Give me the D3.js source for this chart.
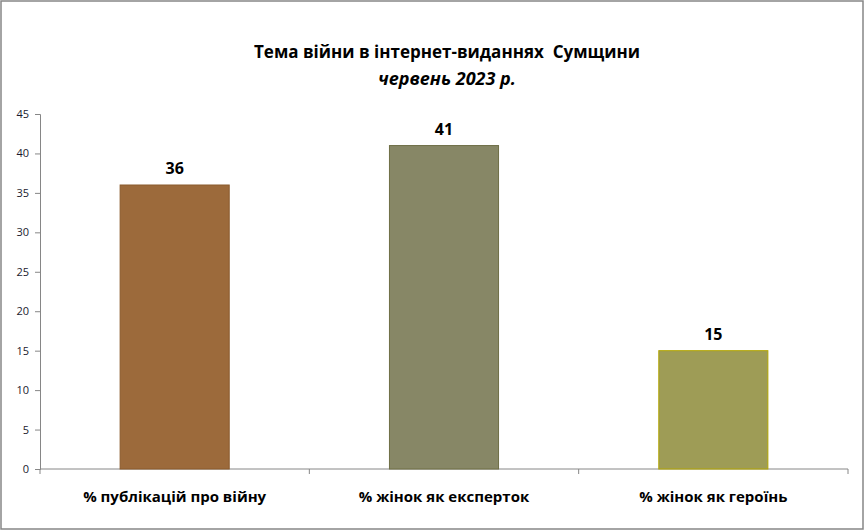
<!DOCTYPE html>
<html>
<head>
<meta charset="utf-8">
<title>Тема війни в інтернет-виданнях Сумщини</title>
<style>
  body { margin: 0; padding: 0; background: #fff; }
  text { font-family: "Open Sans", "Noto Sans", sans-serif; }
</style>
</head>
<body>
<div id="chart"></div>
<script src="https://d3js.org/d3.v7.min.js"></script>
<script>
// data
var categories = ["% публікацій про війну", "% жінок як експерток", "% жінок як героїнь"];
var values = [36, 41, 15];
var yTicks = [0, 5, 10, 15, 20, 25, 30, 35, 40, 45];
var fills = ["#9c6a3b", "#878766", "#9e9c56"];
var strokes = ["#8a5a2c", "#6e6e45", "#b2a500"];

var width = 865, height = 531;
var margin = {top: 114, right: 17, bottom: 62, left: 40};

var svg = d3.select("#chart").append("svg")
    .attr("width", width)
    .attr("height", height);

// outer frame
svg.append("rect")
    .attr("x", 1).attr("y", 1)
    .attr("width", width - 3).attr("height", height - 3)
    .attr("fill", "#fff")
    .attr("stroke", "#868686")
    .attr("stroke-width", 1.5);

var x = d3.scaleBand()
    .domain(categories)
    .range([margin.left, width - margin.right])
    .paddingInner(0.595)
    .paddingOuter(0.2975);

var y = d3.scaleLinear()
    .domain([0, 45])
    .range([height - margin.bottom, margin.top]);

// title
svg.append("text")
    .attr("x", 447).attr("y", 58)
    .attr("text-anchor", "middle")
    .style("font-weight", "bold")
    .style("font-size", "17px")
    .style("white-space", "pre")
    .text("Тема війни в інтернет-виданнях  Сумщини");

svg.append("text")
    .attr("x", 447).attr("y", 85)
    .attr("text-anchor", "middle")
    .style("font-weight", "bold")
    .style("font-style", "italic")
    .style("font-size", "18px")
    .text("червень 2023 р.");

// y axis
var yAxis = svg.append("g")
    .attr("transform", "translate(" + margin.left + ",0)")
    .call(d3.axisLeft(y).tickValues(yTicks).tickSize(5).tickPadding(6));
yAxis.select(".domain").attr("stroke", "#868686");
yAxis.selectAll(".tick line").attr("stroke", "#868686");
yAxis.selectAll(".tick text")
    .style("font-size", "11px")
    .style("font-family", "'Open Sans', sans-serif")
    .attr("fill", "#1a1a2e");

// x axis with ticks between categories
var x0 = y(0);
var xg = svg.append("g");
xg.append("line")
    .attr("x1", margin.left).attr("x2", width - margin.right)
    .attr("y1", x0).attr("y2", x0)
    .attr("stroke", "#868686");
d3.range(categories.length + 1).forEach(function(i) {
  var tx = margin.left + i * (width - margin.left - margin.right) / categories.length;
  xg.append("line")
      .attr("x1", tx).attr("x2", tx)
      .attr("y1", x0).attr("y2", x0 + 5)
      .attr("stroke", "#868686");
});

xg.selectAll("text.cat")
    .data(categories)
    .enter().append("text")
    .attr("class", "cat")
    .attr("x", function(d) { return x(d) + x.bandwidth() / 2; })
    .attr("y", 502)
    .attr("text-anchor", "middle")
    .style("font-weight", "bold")
    .style("font-size", "15px")
    .text(function(d) { return d; });

// bars
svg.selectAll("rect.bar")
    .data(values)
    .enter().append("rect")
    .attr("class", "bar")
    .attr("x", function(d, i) { return x(categories[i]); })
    .attr("y", function(d) { return y(d); })
    .attr("width", x.bandwidth())
    .attr("height", function(d) { return y(0) - y(d); })
    .attr("fill", function(d, i) { return fills[i]; })
    .attr("stroke", function(d, i) { return strokes[i]; })
    .attr("stroke-width", 1);

// value labels
svg.selectAll("text.val")
    .data(values)
    .enter().append("text")
    .attr("class", "val")
    .attr("x", function(d, i) { return x(categories[i]) + x.bandwidth() / 2; })
    .attr("y", function(d) { return y(d) - 11; })
    .attr("text-anchor", "middle")
    .style("font-weight", "bold")
    .style("font-size", "16px")
    .text(function(d) { return d; });
</script>
</body>
</html>
